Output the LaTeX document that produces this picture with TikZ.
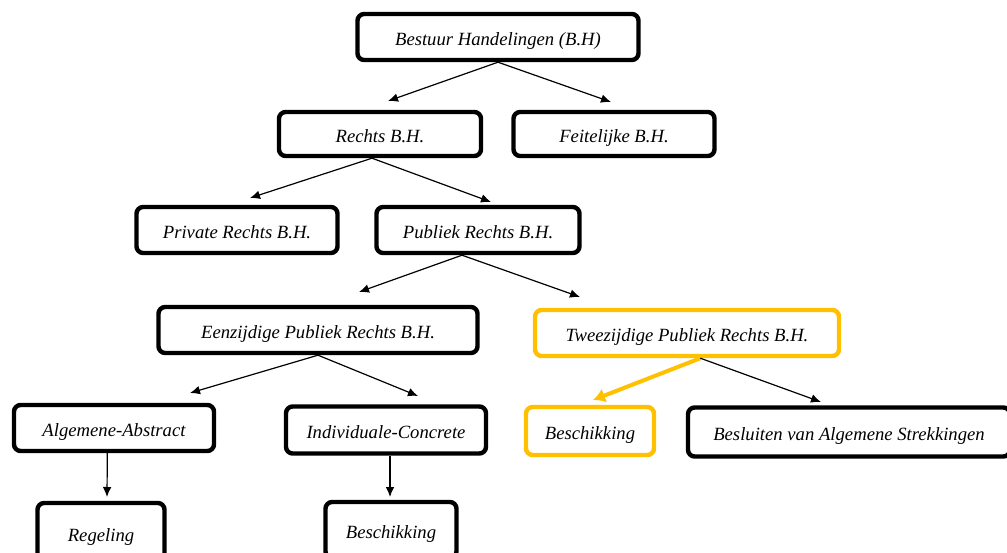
\documentclass[tikz,border=0pt]{standalone}
\usepackage{tikz}
\usetikzlibrary{arrows.meta}
\usepackage{fontspec}
\setmainfont{Liberation Serif}
\definecolor{gold}{RGB}{255,192,0}
\begin{document}
\begin{tikzpicture}[x=0.75pt,y=-0.75pt]
	\tikzstyle{box_style} = [draw=black,line width=3.3pt,rounded corners=5pt,fill=white,inner sep=0pt,text height=12pt,text depth=0pt,font=\itshape\fontsize{14}{16}\selectfont]
	\tikzstyle{gold_style} = [box_style,draw=gold]
	\tikzstyle{edge_style} = [draw=black,line width=0.9pt,-{Latex[length=7.5pt,width=6.5pt]}]
	\tikzstyle{gold_edge_style} = [draw=gold,line width=3pt,-{Latex[length=9pt,width=11pt]}]
	\useasboundingbox (0,0) rectangle (1007,553);
	\clip (0,0) rectangle (1007,553);
	\node[box_style,minimum width=210.75pt,minimum height=34.5pt] (bh) at (498,37) {Bestuur Handelingen (B.H)};
	\node[box_style,minimum width=151.5pt,minimum height=33pt] (rechts) at (380,134) {Rechts B.H.};
	\node[box_style,minimum width=150.75pt,minimum height=33pt] (feitelijk) at (614,134) {Feitelijke B.H.};
	\node[box_style,minimum width=150.75pt,minimum height=34.5pt] (privaat) at (237,230) {Private Rechts B.H.};
	\node[box_style,minimum width=152.25pt,minimum height=34.5pt] (publiek) at (478,230) {Publiek Rechts B.H.};
	\node[box_style,minimum width=239.25pt,minimum height=34.5pt] (eenzijdig) at (318,330) {Eenzijdige Publiek Rechts B.H.};
	\node[gold_style,minimum width=228pt,minimum height=34.5pt] (tweezijdig) at (687,333) {Tweezijdige Publiek Rechts B.H.};
	\node[box_style,minimum width=150pt,minimum height=34.5pt] (algemeen) at (114,428) {Algemene-Abstract};
	\node[box_style,minimum width=150pt,minimum height=35.25pt] (individueel) at (386,430) {Individuale-Concrete};
	\node[gold_style,minimum width=96pt,minimum height=36pt] (beschikking1) at (590,431) {Beschikking};
	\node[box_style,minimum width=241.5pt,minimum height=36.75pt] (besluiten) at (849,432) {Besluiten van Algemene Strekkingen};
	\node[box_style,minimum width=95.25pt,minimum height=45pt] (regeling) at (101,533) {Regeling};
	\node[box_style,minimum width=98.25pt,minimum height=42pt] (beschikking2) at (391,530) {Beschikking};
	% arrow tips
	\coordinate (t1) at (388,101);
	\coordinate (t2) at (611,102);
	\coordinate (t3) at (250,198);
	\coordinate (t4) at (491,202);
	\coordinate (t5) at (359,292);
	\coordinate (t6) at (580,297);
	\coordinate (t7) at (190,393);
	\coordinate (t8) at (418,396);
	\coordinate (t9) at (593,400);
	\coordinate (t10) at (821,402);
	\coordinate (t11) at (107,497);
	\coordinate (t12) at (390,497);
	\draw[edge_style] (bh.south) -- (t1);
	\draw[edge_style] (bh.south) -- (t2);
	\draw[edge_style] ([xshift=-6pt]rechts.south) -- (t3);
	\draw[edge_style] ([xshift=-6pt]rechts.south) -- (t4);
	\draw[edge_style] ([xshift=-12pt]publiek.south) -- (t5);
	\draw[edge_style] ([xshift=-12pt]publiek.south) -- (t6);
	\draw[edge_style] (eenzijdig.south) -- (t7);
	\draw[edge_style] (eenzijdig.south) -- (t8);
	\draw[gold_edge_style] ([xshift=10pt]tweezijdig.south) -- (t9);
	\draw[edge_style] ([xshift=10pt]tweezijdig.south) -- (t10);
	\draw[edge_style] ([xshift=-5pt]algemeen.south) -- (t11);
	\draw[edge_style] ([xshift=3pt]individueel.south) -- (t12);
\end{tikzpicture}
\end{document}
